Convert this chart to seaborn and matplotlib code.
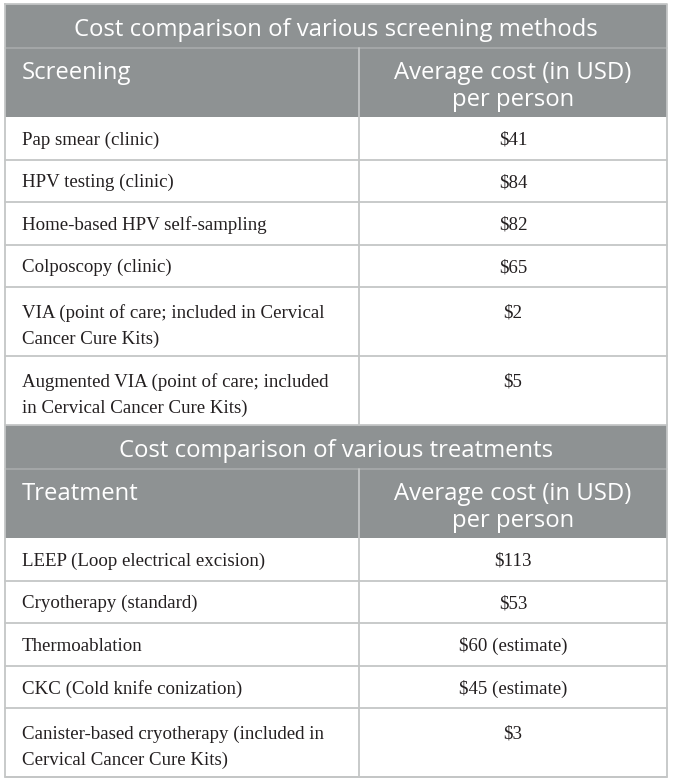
import matplotlib
matplotlib.use("Agg")
import matplotlib.pyplot as plt
import seaborn as sns

# -------------------------------
# TABLE CONTENT
# -------------------------------
screening_title = "Cost comparison of various screening methods"
screening_header = ["Screening", "Average cost (in USD)\nper person"]
screening_methods = [
    "Pap smear (clinic)",
    "HPV testing (clinic)",
    "Home-based HPV self-sampling",
    "Colposcopy (clinic)",
    "VIA (point of care; included in Cervical\nCancer Cure Kits)",
    "Augmented VIA (point of care; included\nin Cervical Cancer Cure Kits)",
]
screening_costs = ["$41", "$84", "$82", "$65", "$2", "$5"]

treatment_title = "Cost comparison of various treatments"
treatment_header = ["Treatment", "Average cost (in USD)\nper person"]
treatment_methods = [
    "LEEP (Loop electrical excision)",
    "Cryotherapy (standard)",
    "Thermoablation",
    "CKC (Cold knife conization)",
    "Canister-based cryotherapy (included in\nCervical Cancer Cure Kits)",
]
treatment_costs = ["$113", "$53", "$60 (estimate)", "$45 (estimate)", "$3"]

# -------------------------------
# STYLE
# -------------------------------
sns.set_style("white")

W, H = 673, 780
HEAD_BG = "#8e9293"
TITLE_SEP = "#a8abac"
GRID = "#c4c6c6"
TEXT = "#231f20"
SANS = ["Open Sans", "DejaVu Sans"]
SERIF = ["Liberation Serif", "DejaVu Serif"]
HEAD_FS = 17.2
BODY_FS = 13.6

X0, X1, XMID = 5, 667, 359
PAD_X = 17
ROW1 = 42.5     # height of a one-line row
LINE = 26.5     # extra height per extra line
TITLE_H = 44

fig = plt.figure(figsize=(W / 100, H / 100), dpi=100)
ax = fig.add_axes([0, 0, 1, 1])
ax.set_xlim(0, W)
ax.set_ylim(H, 0)
ax.axis("off")


def n_lines(*texts):
    return max(t.count("\n") + 1 for t in texts)


def row_height(*texts):
    return ROW1 + LINE * (n_lines(*texts) - 1)


def cell_text(x, y, text, ha, **kw):
    # one text call per line so line spacing matches the row grid
    for i, line in enumerate(text.split("\n")):
        ax.text(x, y + i * LINE, line, ha=ha, va="center_baseline", **kw)


def draw_section(y, title, header, methods, costs):
    # title band
    ax.fill_between([X0, X1], y, y + TITLE_H, color=HEAD_BG, lw=0)
    ax.text((X0 + X1) / 2, y + TITLE_H / 2 + 1, title, color="white",
            fontsize=HEAD_FS, family=SANS, ha="center", va="center_baseline")
    y += TITLE_H

    # header band
    h = row_height(*header)
    ax.fill_between([X0, X1], y, y + h, color=HEAD_BG, lw=0)
    ax.plot([X0, X1], [y, y], color=TITLE_SEP, lw=1.2)
    cell_text(X0 + PAD_X, y + ROW1 / 2 + 1, header[0], "left",
              color="white", fontsize=HEAD_FS, family=SANS)
    cell_text((XMID + X1) / 2, y + ROW1 / 2 + 1, header[1], "center",
              color="white", fontsize=HEAD_FS, family=SANS)
    top = y
    y += h

    # body rows
    for name, cost in zip(methods, costs):
        h = row_height(name, cost)
        first = y + ROW1 / 2 + (3 if n_lines(name, cost) > 1 else 0)
        cell_text(X0 + PAD_X, first, name, "left",
                  color=TEXT, fontsize=BODY_FS, family=SERIF)
        cell_text((XMID + X1) / 2, first, cost, "center",
                  color=TEXT, fontsize=BODY_FS, family=SERIF)
        y += h
        ax.plot([X0, X1], [y, y], color=GRID, lw=1.3)

    ax.plot([XMID, XMID], [top, y], color=GRID, lw=1.3)
    return y


y0 = 4
y = draw_section(y0, screening_title, screening_header,
                 screening_methods, screening_costs)
y = draw_section(y, treatment_title, treatment_header,
                 treatment_methods, treatment_costs)

# outer border
ax.plot([X0, X1, X1, X0, X0], [y0, y0, y, y, y0], color=GRID, lw=1.3)

fig.savefig("out.png", dpi=100, facecolor="white")
